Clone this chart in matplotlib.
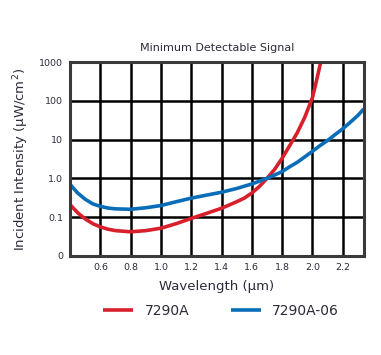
import matplotlib
matplotlib.use("Agg")
from matplotlib import pyplot as plt
import numpy as np

# values (wavelength in um, intensity in uW/cm^2)
wl_red = [0.40, 0.45, 0.50, 0.55, 0.60, 0.65, 0.70, 0.80, 0.90, 1.00, 1.10, 1.20,
          1.30, 1.40, 1.50, 1.55, 1.60, 1.65, 1.70, 1.75, 1.80, 1.85, 1.90, 1.95,
          2.00, 2.02, 2.04, 2.06]
i_red = [0.21, 0.13, 0.09, 0.068, 0.056, 0.049, 0.045, 0.042, 0.045, 0.052, 0.068,
         0.093, 0.125, 0.17, 0.25, 0.31, 0.42, 0.62, 1.0, 1.7, 3.3, 7.0, 15, 38,
         120, 250, 550, 1200]

wl_blue = [0.40, 0.45, 0.50, 0.55, 0.60, 0.65, 0.70, 0.80, 0.90, 1.00, 1.10, 1.20,
           1.30, 1.40, 1.50, 1.60, 1.65, 1.70, 1.75, 1.80, 1.85, 1.90, 1.95, 2.00,
           2.05, 2.10, 2.15, 2.20, 2.25, 2.30, 2.34]
i_blue = [0.70, 0.42, 0.29, 0.22, 0.19, 0.172, 0.164, 0.16, 0.175, 0.20, 0.25, 0.31,
          0.37, 0.44, 0.55, 0.72, 0.85, 1.0, 1.22, 1.5, 2.0, 2.6, 3.6, 5.0, 7.0,
          9.5, 13.5, 19, 28, 42, 62]

x_ticks = [0.6, 0.8, 1.0, 1.2, 1.4, 1.6, 1.8, 2.0, 2.2]
y_ticks = [0.01, 0.1, 1, 10, 100, 1000]
y_labels = ["0", "0.1", "1.0", "10", "100", "1000"]

red = "#d7202c"
blue = "#0a6db7"
txt = "#2b2b3a"

fig = plt.figure(figsize=(3.81, 3.55), dpi=100)
ax = fig.add_axes([0.184, 0.279, 0.771, 0.546])

ax.plot(wl_red, i_red, color=red, lw=2.6, label="7290A", solid_capstyle="butt")
ax.plot(wl_blue, i_blue, color=blue, lw=2.6, label="7290A-06", solid_capstyle="butt")

ax.set_yscale("log")
ax.set_xlim(0.4, 2.34)
ax.set_ylim(0.01, 1000)
ax.set_xticks(x_ticks)
ax.set_xticklabels([f"{v:.1f}" for v in x_ticks])
ax.set_yticks(y_ticks)
ax.set_yticklabels(y_labels)
ax.minorticks_off()
ax.tick_params(length=0, labelsize=6.8, colors=txt, pad=5)
ax.grid(True, color="black", lw=1.8)
ax.set_axisbelow(True)
for s in ax.spines.values():
	s.set_color("#3a3a3a")
	s.set_linewidth(2.2)

ax.set_title("Minimum Detectable Signal", fontsize=8, color=txt, pad=8)
ax.set_xlabel("Wavelength (\u03bcm)", fontsize=9.5, color=txt, labelpad=6)
ax.set_ylabel("Incident Intensity (\u03bcW/cm$^2$)", fontsize=9.5, color=txt, labelpad=6)

fig.legend(loc="center", bbox_to_anchor=(0.58, 0.125), ncol=2, frameon=False,
           fontsize=10, handlelength=2.2, columnspacing=3.0, labelcolor=txt)

fig.savefig("out.png", dpi=100)
